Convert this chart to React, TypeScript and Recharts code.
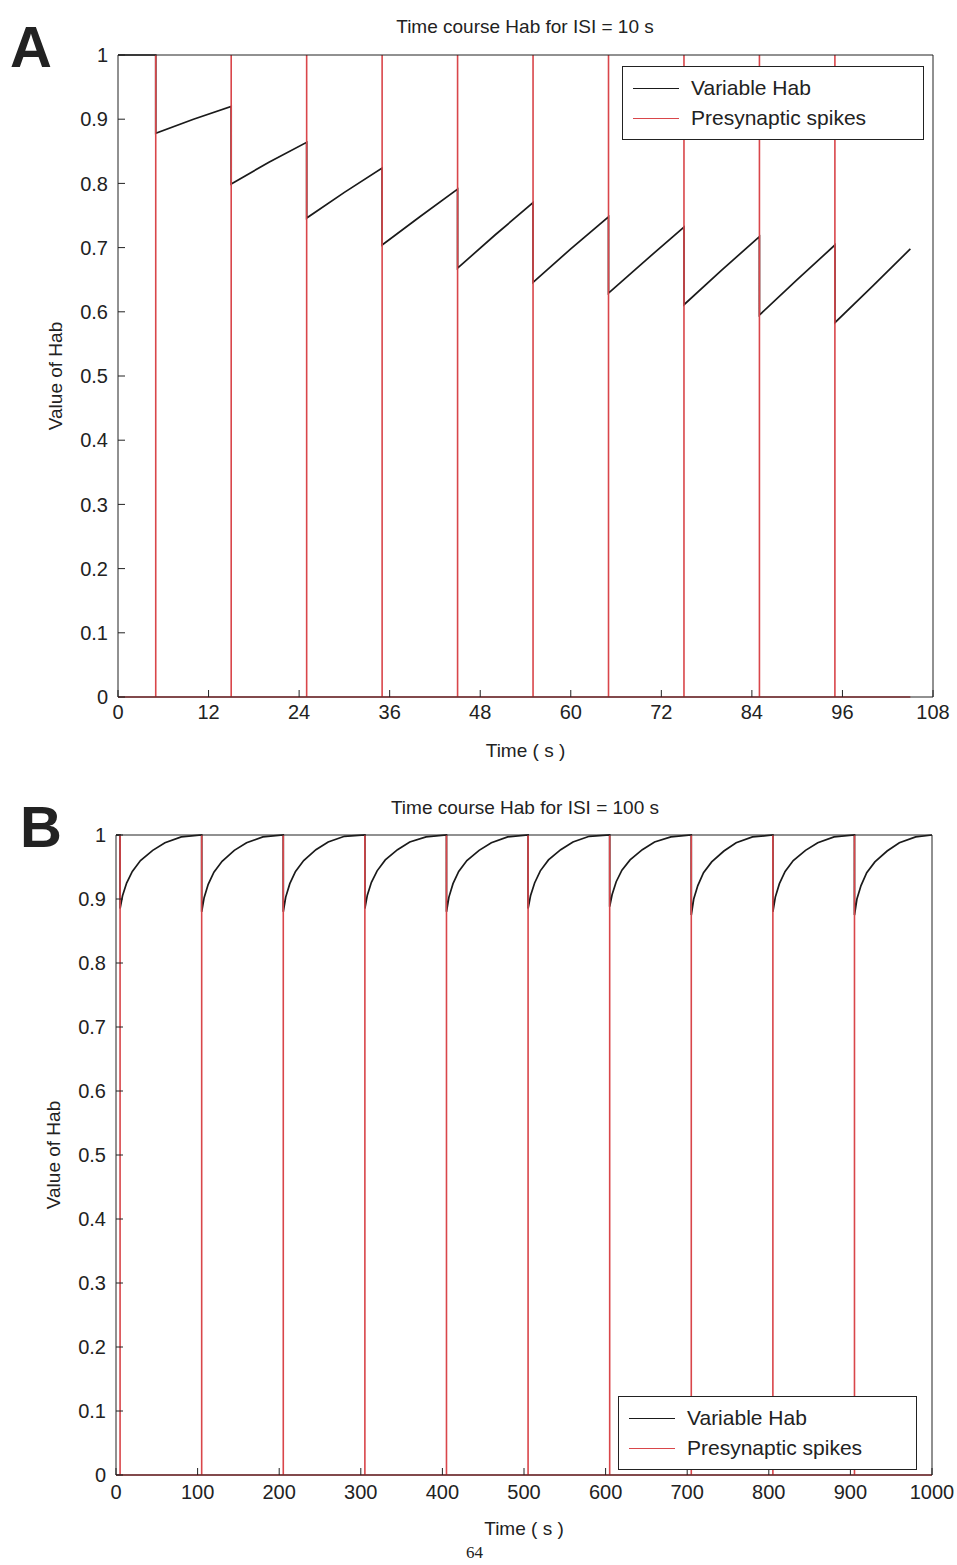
import { LineChart, Line, XAxis, YAxis, Legend } from 'recharts'

// panel A: ISI = 10 s
const ticksA = [0, 12, 24, 36, 48, 60, 72, 84, 96, 108]
const spikesA = [5, 15, 25, 35, 45, 55, 65, 75, 85, 95]
const spikeEndA = 105
const habATimes = [0, 5, 5, 10, 15, 15, 20, 25, 25, 30, 35, 35, 40, 45, 45, 50, 55, 55, 60, 65, 65, 70, 75, 75, 80, 85, 85, 90, 95, 95, 100, 105]
const habAValues = [1, 1, 0.878, 0.9, 0.92, 0.799, 0.833, 0.864, 0.746, 0.786, 0.824, 0.704, 0.748, 0.791, 0.668, 0.72, 0.77, 0.646, 0.698, 0.748, 0.629, 0.681, 0.732, 0.611, 0.665, 0.717, 0.595, 0.65, 0.704, 0.583, 0.64, 0.698]

// panel B: ISI = 100 s
const ticksB = [0, 100, 200, 300, 400, 500, 600, 700, 800, 900, 1000]
const spikesB = [5, 105, 205, 305, 405, 505, 605, 705, 805, 905]
const spikeEndB = 1000
const habBTimes = [
  0,
  5, 5, 8, 13, 20, 30, 45, 60, 80,
  105, 105, 108, 113, 120, 130, 145, 160, 180,
  205, 205, 208, 213, 220, 230, 245, 260, 280,
  305, 305, 308, 313, 320, 330, 345, 360, 380,
  405, 405, 408, 413, 420, 430, 445, 460, 480,
  505, 505, 508, 513, 520, 530, 545, 560, 580,
  605, 605, 608, 613, 620, 630, 645, 660, 680,
  705, 705, 708, 713, 720, 730, 745, 760, 780,
  805, 805, 808, 813, 820, 830, 845, 860, 880,
  905, 905, 908, 913, 920, 930, 945, 960, 980,
  1000,
]
const habBValues = [
  1,
  1, 0.885, 0.905, 0.925, 0.943, 0.96, 0.976, 0.988, 0.997,
  1, 0.88, 0.902, 0.923, 0.942, 0.959, 0.976, 0.988, 0.997,
  1, 0.88, 0.903, 0.924, 0.943, 0.96, 0.977, 0.989, 0.998,
  1, 0.885, 0.906, 0.926, 0.944, 0.961, 0.977, 0.989, 0.997,
  1, 0.88, 0.903, 0.924, 0.943, 0.96, 0.976, 0.988, 0.997,
  1, 0.885, 0.905, 0.925, 0.944, 0.961, 0.977, 0.989, 0.998,
  1, 0.888, 0.907, 0.927, 0.945, 0.961, 0.977, 0.989, 0.997,
  1, 0.875, 0.9, 0.921, 0.941, 0.958, 0.975, 0.988, 0.997,
  1, 0.88, 0.903, 0.924, 0.943, 0.96, 0.976, 0.988, 0.997,
  1, 0.875, 0.9, 0.921, 0.941, 0.958, 0.975, 0.988, 0.997,
  1,
]

const yTicks = [0, 0.1, 0.2, 0.3, 0.4, 0.5, 0.6, 0.7, 0.8, 0.9, 1]
const legendOrder = ['Variable Hab', 'Presynaptic spikes']

const FONT = '"Liberation Sans", Arial, Helvetica, sans-serif'
const RED = '#d9464a'
const tickStyle = { fontSize: 20, fill: '#222', fontFamily: FONT }

const zip = (ts: number[], vs: number[]) => ts.map((t, i) => ({ t, v: vs[i] }))

const buildSpikes = (times: number[], end: number) => {
  const pts = [{ t: 0, v: 0 }]
  times.forEach((s) => {
    pts.push({ t: s, v: 0 }, { t: s, v: 1 }, { t: s, v: 0 })
  })
  pts.push({ t: end, v: 0 })
  return pts
}

const legendContent = (props: any) => {
  const items = [...(props.payload || [])].sort(
    (a: any, b: any) => legendOrder.indexOf(a.value) - legendOrder.indexOf(b.value)
  )
  return (
    <div
      style={{
        border: '1.5px solid #222',
        background: '#fff',
        boxSizing: 'border-box',
        padding: '6px 10px',
        fontFamily: FONT,
        fontSize: 21,
        color: '#222',
      }}
    >
      {items.map((p: any) => (
        <div key={p.value} style={{ display: 'flex', alignItems: 'center', height: 30 }}>
          <div style={{ width: 46, borderTop: `1.6px solid ${p.color}`, marginRight: 12 }} />
          <span>{p.value}</span>
        </div>
      ))}
    </div>
  )
}

interface PanelProps {
  top: number
  height: number
  letter: string
  letterTop: number
  letterLeft: number
  title: string
  titleTop: number
  hab: { t: number; v: number }[]
  spikes: { t: number; v: number }[]
  xTicks: number[]
  xMax: number
  margin: { top: number; right: number; bottom: number; left: number }
  tickMargin: number
  legendPos: { left: number; top: number; width: number }
}

function Panel(p: PanelProps) {
  return (
    <div style={{ position: 'absolute', left: 0, top: p.top, width: 957, height: p.height }}>
      <div style={{ position: 'absolute', left: p.letterLeft, top: p.letterTop, fontFamily: FONT, fontWeight: 'bold', fontSize: 58, lineHeight: 1, color: '#222' }}>
        {p.letter}
      </div>
      <div style={{ position: 'absolute', left: 0, width: 1050, top: p.titleTop, textAlign: 'center', fontFamily: FONT, fontSize: 19, color: '#222' }}>
        {p.title}
      </div>
      <LineChart width={957} height={p.height} margin={p.margin} style={{ position: 'absolute', left: 0, top: 0 }}>
        <XAxis
          type="number"
          dataKey="t"
          domain={[0, p.xMax]}
          ticks={p.xTicks}
          interval={0}
          height={70}
          tickSize={-7}
          tickMargin={p.tickMargin}
          stroke="#222"
          tick={tickStyle}
          label={{ value: 'Time ( s )', position: 'insideBottom', offset: 10, style: { fontSize: 19, fill: '#222', fontFamily: FONT } }}
        />
        <XAxis xAxisId="top" orientation="top" type="number" domain={[0, p.xMax]} ticks={p.xTicks} interval={0} height={1} tickSize={-7} tickFormatter={() => ''} stroke="#222" />
        <YAxis
          type="number"
          domain={[0, 1]}
          ticks={yTicks}
          interval={0}
          width={70}
          tickSize={-7}
          tickMargin={17}
          stroke="#222"
          tick={tickStyle}
          label={{ value: 'Value of Hab', angle: -90, position: 'insideLeft', offset: 7, style: { textAnchor: 'middle', fontSize: 19, fill: '#222', fontFamily: FONT } }}
        />
        <YAxis yAxisId="right" orientation="right" type="number" domain={[0, 1]} ticks={yTicks} interval={0} width={1} tickSize={-7} tickFormatter={() => ''} stroke="#222" />
        <Line data={p.hab} dataKey="v" name="Variable Hab" type="linear" stroke="#1a1a1a" strokeWidth={1.7} dot={false} isAnimationActive={false} />
        <Line data={p.spikes} dataKey="v" name="Presynaptic spikes" type="linear" stroke={RED} strokeWidth={1.6} dot={false} isAnimationActive={false} />
        <Legend
          layout="horizontal"
          verticalAlign="middle"
          align="center"
          content={legendContent}
          wrapperStyle={{ left: p.legendPos.left, top: p.legendPos.top, width: p.legendPos.width, height: 'auto' }}
        />
      </LineChart>
    </div>
  )
}

export default function App() {
  return (
    <div style={{ position: 'absolute', left: 0, top: 0, width: 957, height: 1565, background: '#fff', overflow: 'hidden' }}>
      <Panel
        top={0}
        height={770}
        letter="A"
        letterLeft={10}
        letterTop={18}
        title="Time course Hab for ISI = 10 s"
        titleTop={16}
        hab={zip(habATimes, habAValues)}
        spikes={buildSpikes(spikesA, spikeEndA)}
        xTicks={ticksA}
        xMax={108}
        margin={{ top: 54, right: 23, bottom: 3, left: 48 }}
        tickMargin={15}
        legendPos={{ left: 622, top: 66, width: 302 }}
      />
      <Panel
        top={760}
        height={800}
        letter="B"
        letterLeft={20}
        letterTop={38}
        title="Time course Hab for ISI = 100 s"
        titleTop={37}
        hab={zip(habBTimes, habBValues)}
        spikes={buildSpikes(spikesB, spikeEndB)}
        xTicks={ticksB}
        xMax={1000}
        margin={{ top: 74, right: 24, bottom: 15, left: 46 }}
        tickMargin={17}
        legendPos={{ left: 618, top: 636, width: 299 }}
      />
      <div style={{ position: 'absolute', left: 466, top: 1543, fontFamily: '"Liberation Serif", serif', fontSize: 17, color: '#222' }}>
        64
      </div>
    </div>
  )
}
